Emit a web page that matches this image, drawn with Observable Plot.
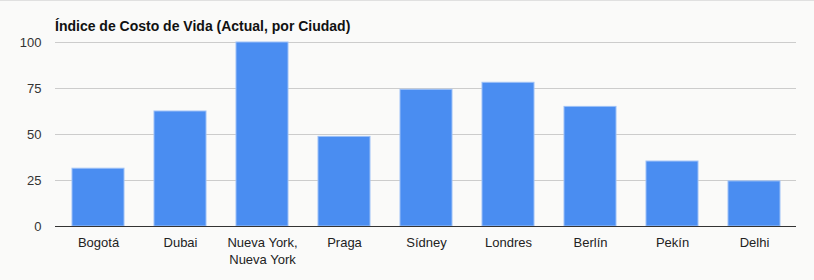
<!DOCTYPE html>
<html>
<head>
<meta charset="utf-8">
<script src="https://cdn.jsdelivr.net/npm/d3@7"></script>
<script src="https://cdn.jsdelivr.net/npm/@observablehq/plot@0.6"></script>
<style>
  html, body { margin: 0; padding: 0; background: #fafaf9; }
  #wrap { width: 814px; height: 280px; box-sizing: border-box; border-top: 1px solid #e0e0e0; background: #fafaf9; font-family: "Liberation Sans", Arial, Helvetica, sans-serif; }
  #title { height: 33px; box-sizing: border-box; padding: 17px 0 0 55px; font-weight: bold; font-size: 14px; line-height: 16px; color: #111; }
  svg { display: block; }
</style>
</head>
<body>
<div id="wrap">
  <div id="title">Índice de Costo de Vida (Actual, por Ciudad)</div>
  <div id="chart"></div>
</div>
<script>
const cities = ["Bogotá", "Dubai", "Nueva York, Nueva York", "Praga", "Sídney", "Londres", "Berlín", "Pekín", "Delhi"];
const labels = ["Bogotá", "Dubai", "Nueva York,\nNueva York", "Praga", "Sídney", "Londres", "Berlín", "Pekín", "Delhi"];
const values = [31.4, 62.5, 100, 48.7, 74.3, 78.1, 65.0, 35.3, 24.5];
const yTicks = [0, 25, 50, 75, 100];

const data = cities.map((c, i) => ({city: c, value: values[i]}));
const labelOf = new Map(cities.map((c, i) => [c, labels[i]]));

const chart = Plot.plot({
  width: 814,
  height: 246,
  marginTop: 8,
  marginBottom: 54,
  marginLeft: 55,
  marginRight: 18,
  style: {background: "#fafaf9", fontFamily: "'Liberation Sans', Arial, Helvetica, sans-serif", fontSize: "13px"},
  x: {domain: cities, paddingInner: 0.366, paddingOuter: 0.19, label: null},
  y: {domain: [0, 100], label: null},
  marks: [
    Plot.gridY(yTicks, {stroke: "#cccccc", strokeOpacity: 1, strokeWidth: 1}),
    Plot.barY(data, {x: "city", y: "value", fill: "#4a8df1", stroke: "#9cc0f7", strokeWidth: 1}),
    Plot.ruleY([0], {stroke: "#333333", strokeWidth: 1}),
    Plot.axisY({ticks: yTicks, tickSize: 0, tickPadding: 14, fill: "#333", fontSize: 13, label: null}),
    Plot.axisX({tickSize: 0, tickPadding: 9, fill: "#222", fontSize: 13, lineHeight: 1.27, tickFormat: d => labelOf.get(d), label: null})
  ]
});
document.getElementById("chart").appendChild(chart);
</script>
</body>
</html>
